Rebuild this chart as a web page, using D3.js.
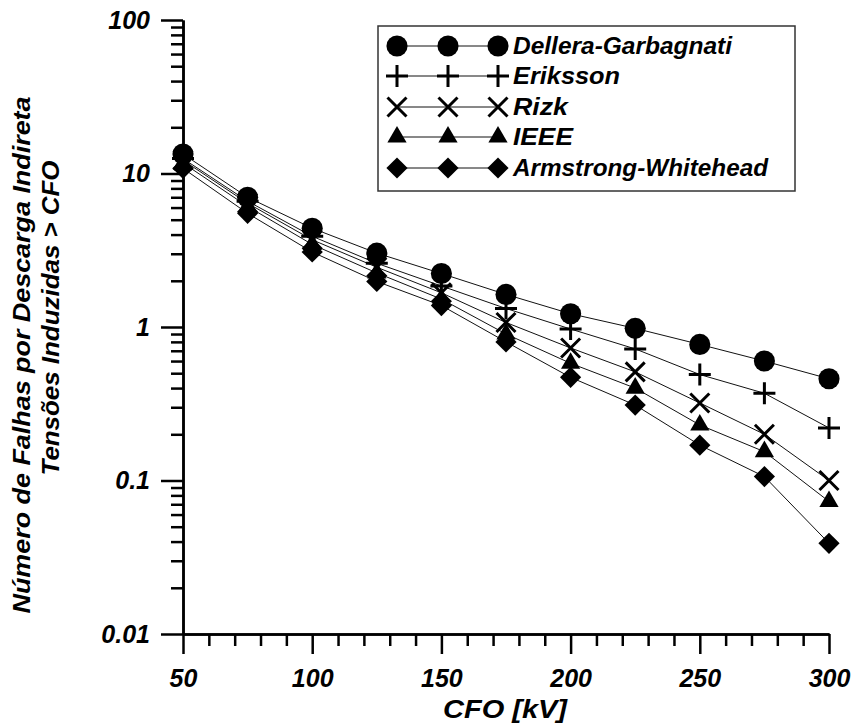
<!DOCTYPE html>
<html>
<head>
<meta charset="utf-8">
<script src="https://cdn.jsdelivr.net/npm/d3@7"></script>
<style>
  html, body { margin: 0; padding: 0; background: #fff; }
  svg { display: block; }
  text { font-family: "Liberation Sans", Arial, sans-serif; font-weight: bold; font-style: italic; fill: #000; }
</style>
</head>
<body>
<svg id="chart" width="856" height="727"></svg>
<script>
// ---- data ----
const cfo = [50, 75, 100, 125, 150, 175, 200, 225, 250, 275, 300];
const dellera   = [13.4, 7.0, 4.4, 3.03, 2.23, 1.63, 1.22, 0.98, 0.77, 0.60, 0.46];
const eriksson  = [12.5, 6.6, 3.9, 2.6, 1.85, 1.32, 0.97, 0.72, 0.49, 0.37, 0.22];
const rizk      = [12.2, 6.4, 3.7, 2.45, 1.67, 1.07, 0.73, 0.51, 0.32, 0.20, 0.10];
const ieee      = [11.7, 6.1, 3.45, 2.25, 1.52, 0.90, 0.58, 0.40, 0.23, 0.154, 0.073];
const armstrong = [10.8, 5.5, 3.08, 1.98, 1.38, 0.80, 0.47, 0.31, 0.17, 0.106, 0.039];
const seriesNames = ["Dellera-Garbagnati", "Eriksson", "Rizk", "IEEE", "Armstrong-Whitehead"];
const seriesValues = [dellera, eriksson, rizk, ieee, armstrong];
const seriesMarkers = ["circle", "plus", "x", "triangle", "diamond"];
const xMajorTicks = [50, 100, 150, 200, 250, 300];
const yMajorTicks = [0.01, 0.1, 1, 10, 100];
const yTickLabels = ["0.01", "0.1", "1", "10", "100"];
const xTitle = "CFO [kV]";
const yTitleLines = ["Número de Falhas por Descarga Indireta", "Tensões Induzidas > CFO"];

// ---- scales ----
const svg = d3.select("#chart");
const x = d3.scaleLinear().domain([50, 300]).range([183, 829]);
const y = d3.scaleLog().domain([0.01, 100]).range([634, 20]);

// minor ticks
const xMinor = d3.range(50, 301, 10).filter(v => v % 50 !== 0);
const yMinor = [];
for (let d = 0.01; d < 100; d *= 10) for (let k = 2; k <= 9; k++) yMinor.push(+(d * k).toPrecision(3));

// ---- axes ----
const axStyle = g => {
  g.selectAll("path.domain").attr("stroke", "#000").attr("stroke-width", 2.5);
  g.selectAll(".tick line").attr("stroke", "#000").attr("stroke-width", 2.5);
  g.selectAll("text").attr("font-size", 25).attr("font-family", null);
};

svg.append("g").attr("transform", "translate(0,634)")
  .call(d3.axisBottom(x).tickValues(xMinor).tickSize(12).tickSizeOuter(0).tickFormat(""))
  .call(axStyle);
svg.append("g").attr("transform", "translate(0,634)")
  .call(d3.axisBottom(x).tickValues(xMajorTicks).tickSize(20).tickSizeOuter(0).tickPadding(15).tickFormat(d3.format("d")))
  .call(axStyle);

svg.append("g").attr("transform", "translate(183,0)")
  .call(d3.axisLeft(y).tickValues(yMinor).tickSize(12).tickSizeOuter(0).tickFormat(""))
  .call(axStyle);
svg.append("g").attr("transform", "translate(183,0)")
  .call(d3.axisLeft(y).tickValues(yMajorTicks).tickSize(22).tickSizeOuter(0).tickPadding(11)
        .tickFormat((d, i) => yTickLabels[i]))
  .call(axStyle);

// ---- titles ----
svg.append("text").attr("x", 505).attr("y", 718).attr("text-anchor", "middle")
  .attr("font-size", 26).attr("textLength", 124).attr("lengthAdjust", "spacingAndGlyphs").text(xTitle);

const yTitlePos = [{bx: 30, cy: 355, len: 517}, {bx: 59, cy: 318, len: 315}];
yTitleLines.forEach((t, i) => {
  svg.append("text")
    .attr("transform", `translate(${yTitlePos[i].bx},${yTitlePos[i].cy}) rotate(-90)`)
    .attr("text-anchor", "middle").attr("font-size", 24)
    .attr("textLength", yTitlePos[i].len).attr("lengthAdjust", "spacingAndGlyphs")
    .text(t);
});

// ---- markers ----
function drawMarker(g, type) {
  if (type === "circle") {
    g.append("path").attr("d", d3.symbol(d3.symbolCircle, 350)()).attr("fill", "#000");
  } else if (type === "plus") {
    g.append("path").attr("d", "M-11,0H11M0,-11V11").attr("stroke", "#000").attr("stroke-width", 3).attr("fill", "none");
  } else if (type === "x") {
    g.append("path").attr("d", "M-9.5,-9.5L9.5,9.5M-9.5,9.5L9.5,-9.5").attr("stroke", "#000").attr("stroke-width", 3).attr("fill", "none");
  } else if (type === "triangle") {
    g.append("path").attr("d", d3.symbol(d3.symbolTriangle, 160)()).attr("fill", "#000");
  } else if (type === "diamond") {
    g.append("path").attr("d", d3.symbol(d3.symbolSquare, 225)()).attr("transform", "rotate(45)").attr("fill", "#000");
  }
}

const line = d3.line().x((d, i) => x(cfo[i])).y(d => y(d));
seriesValues.forEach(vals => {
  svg.append("path").attr("d", line(vals)).attr("fill", "none").attr("stroke", "#111").attr("stroke-width", 1);
});
seriesValues.forEach((vals, s) => {
  vals.forEach((v, i) => {
    const g = svg.append("g").attr("transform", `translate(${x(cfo[i])},${y(v)})`);
    drawMarker(g, seriesMarkers[s]);
  });
});

// ---- legend ----
const leg = svg.append("g");
leg.append("rect").attr("x", 378).attr("y", 26).attr("width", 417).attr("height", 165)
  .attr("fill", "#fff").attr("stroke", "#333").attr("stroke-width", 1.5);
const legRowY = [46, 76, 107, 137, 168];
const legMarkX = [397, 448, 498];
const legTextLen = [219, 107, 55, 60, 255];
seriesNames.forEach((name, s) => {
  const ry = legRowY[s];
  leg.append("line").attr("x1", legMarkX[0]).attr("x2", legMarkX[2]).attr("y1", ry).attr("y2", ry)
    .attr("stroke", "#111").attr("stroke-width", 1);
  legMarkX.forEach(mx => drawMarker(leg.append("g").attr("transform", `translate(${mx},${ry})`), seriesMarkers[s]));
  leg.append("text").attr("x", 513).attr("y", ry + 8).attr("font-size", 23)
    .attr("textLength", legTextLen[s]).attr("lengthAdjust", "spacingAndGlyphs").text(name);
});
</script>
</body>
</html>
